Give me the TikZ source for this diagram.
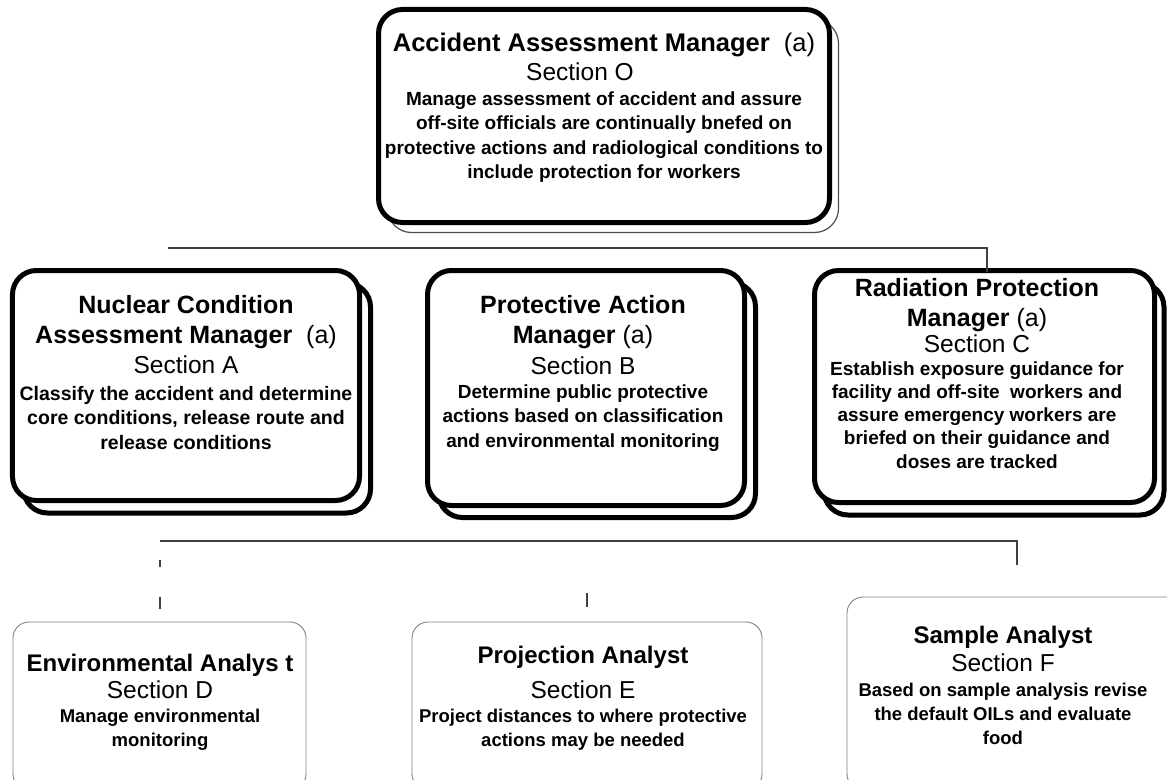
\documentclass[tikz,border=0pt]{standalone}
\usepackage{fontspec}
\setmainfont{Liberation Sans}
\begin{document}
\begin{tikzpicture}[x=1bp,y=-1bp,
  mgrbox/.style={draw=black, line width=5bp, rounded corners=24bp, fill=white,
    inner sep=0pt, rectangle},
  topshadow/.style={draw=black!70, line width=1.2bp, rounded corners=24bp,
    inner sep=0pt, rectangle},
  anbox/.style={draw=black!50, line width=0.9bp, rounded corners=16bp,
    inner sep=0pt, rectangle},
  link/.style={draw=black!75, line width=1.2bp},
  ttl/.style={align=center, inner sep=0pt,
    font=\bfseries\fontsize{25bp}{29.5bp}\selectfont},
  sec/.style={align=center, inner sep=0pt,
    font=\fontsize{24.5bp}{28bp}\selectfont},
  dsc/.style={align=center, inner sep=0pt,
    font=\bfseries\fontsize{19bp}{24.2bp}\selectfont},
]
\useasboundingbox (0,0) rectangle (1167,780);

% ---------- top manager ----------
\node[topshadow, minimum width=451bp, minimum height=213bp] (Osh) at (613,126) {};
\node[mgrbox, minimum width=451bp, minimum height=213bp] (O) at (604,116) {};
\node[ttl, font=\bfseries\fontsize{25.5bp}{30bp}\selectfont] (Ot) at (604,45)
  {Accident Assessment Manager \ {\mdseries (a)}};
\node[sec] (Os) at (580,72) {Section O};
\node[dsc] (Od) at (604,137) {Manage assessment of accident and assure\\
  off-site officials are continually bnefed on\\
  protective actions and radiological conditions to\\
  include protection for workers};

% ---------- section managers ----------
\node[mgrbox, minimum width=347bp, minimum height=230bp] (Ash) at (197,398) {};
\node[mgrbox, minimum width=347bp, minimum height=230bp] (A) at (186,385.5) {};
\node[ttl] (At) at (186,322) {Nuclear Condition\\Assessment Manager \ {\mdseries (a)}};
\node[sec] (As) at (186,365) {Section A};
\node[dsc, font=\bfseries\fontsize{19.5bp}{24.2bp}\selectfont] (Ad) at (186,418)
  {Classify the accident and determine\\
  core conditions, release route and\\ release conditions};

\node[mgrbox, minimum width=317bp, minimum height=235bp] (Bsh) at (597,400) {};
\node[mgrbox, minimum width=317bp, minimum height=235bp] (B) at (586,388) {};
\node[ttl] (Bt) at (583,322) {Protective Action\\Manager {\mdseries (a)}};
\node[sec] (Bs) at (583,366) {Section B};
\node[dsc] (Bd) at (583,418) {Determine public protective\\
  actions based on classification\\ and environmental monitoring};

\node[mgrbox, minimum width=340bp, minimum height=232bp] (Csh) at (994,399) {};
\node[mgrbox, minimum width=340bp, minimum height=232bp] (C) at (984.5,386.5) {};
\node[ttl] (Ct) at (977,305) {Radiation Protection\\Manager {\mdseries (a)}};
\node[sec] (Cs) at (977,344) {Section C};
\node[dsc, font=\bfseries\fontsize{19bp}{23.2bp}\selectfont] (Cd) at (977,415)
  {Establish exposure guidance for\\
  facility and off-site \ workers and\\ assure emergency workers are\\
  briefed on their guidance and\\ doses are tracked};

% ---------- analysts ----------
\node[anbox, minimum width=293bp, minimum height=168bp] (D) at (159.5,706) {};
\node[ttl, font=\bfseries\fontsize{24bp}{28bp}\selectfont] (Dt) at (160,665) {Environmental Analys t};
\node[sec] (Ds) at (160,690) {Section D};
\node[dsc, font=\bfseries\fontsize{18.5bp}{24.2bp}\selectfont] (Dd) at (160,730)
  {Manage environmental\\ monitoring};

\node[anbox, minimum width=350bp, minimum height=168bp] (E) at (587,706) {};
\node[ttl, font=\bfseries\fontsize{24bp}{28bp}\selectfont] (Et) at (583,657) {Projection Analyst};
\node[sec] (Es) at (583,690) {Section E};
\node[dsc, font=\bfseries\fontsize{18.5bp}{24.2bp}\selectfont] (Ed) at (583,730)
  {Project distances to where protective\\ actions may be needed};

\node[anbox, minimum width=338bp, minimum height=193bp] (F) at (1016,693.5) {};
\node[ttl, font=\bfseries\fontsize{24bp}{28bp}\selectfont] (Ft) at (1003,637) {Sample Analyst};
\node[sec] (Fs) at (1003,663) {Section F};
\node[dsc, font=\bfseries\fontsize{18.5bp}{24.2bp}\selectfont] (Fd) at (1003,714)
  {Based on sample analysis revise\\
  the default OILs and evaluate\\ food};

% ---------- connectors ----------
\coordinate (busL) at (168,248);
\coordinate (busR) at (987,248);
\draw[link] (busL) -- (busR) -- ([yshift=-4bp]busR |- C.north);

\coordinate (lowL) at (160,541);
\coordinate (lowR) at (1017,541);
\coordinate (lowEnd) at (1017,565);
\draw[link] (lowL) -- (lowR) -- (lowEnd);
\draw[link, dash pattern=on 0bp off 19bp on 7bp off 30bp on 12bp off 60bp]
  (lowL) -- (lowL |- D.north);
\draw[link, dash pattern=on 0bp off 52bp on 14bp off 60bp]
  (E.north |- lowL) -- (E.north);
\end{tikzpicture}
\end{document}
